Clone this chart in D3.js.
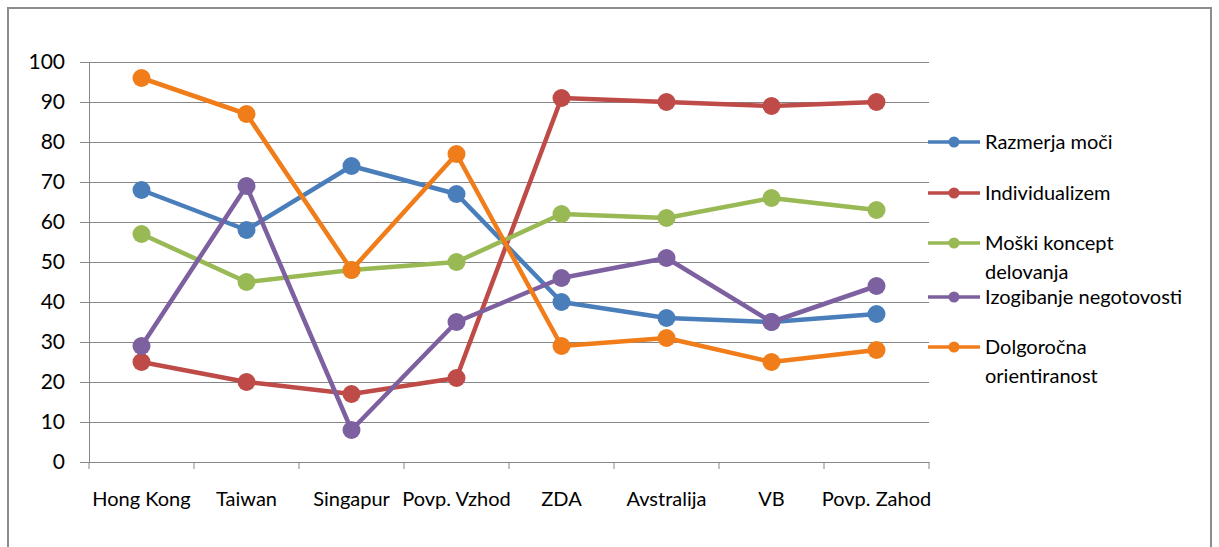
<!DOCTYPE html>
<html>
<head>
<meta charset="utf-8">
<script src="https://cdn.jsdelivr.net/npm/d3@7"></script>
<style>
  body { margin: 0; background: #fff; }
  text { font-family: Lato, "Open Sans", sans-serif; fill: #000; }
</style>
</head>
<body>
<div id="chart"></div>
<script>
var categories = ["Hong Kong", "Taiwan", "Singapur", "Povp. Vzhod", "ZDA", "Avstralija", "VB", "Povp. Zahod"];
var seriesNames = ["Razmerja moči", "Individualizem", "Moški koncept delovanja", "Izogibanje negotovosti", "Dolgoročna orientiranost"];
var razmerjaMoci = [68, 58, 74, 67, 40, 36, 35, 37];
var individualizem = [25, 20, 17, 21, 91, 90, 89, 90];
var moskiKoncept = [57, 45, 48, 50, 62, 61, 66, 63];
var izogibanje = [29, 69, 8, 35, 46, 51, 35, 44];
var dolgorocna = [96, 87, 48, 77, 29, 31, 25, 28];
var yTicks = [0, 10, 20, 30, 40, 50, 60, 70, 80, 90, 100];

var seriesValues = [razmerjaMoci, individualizem, moskiKoncept, izogibanje, dolgorocna];
var colors = ["#4a7ebb", "#be4b48", "#98b954", "#7d60a0", "#f07d1a"];
var legendLines = [["Razmerja moči"], ["Individualizem"], ["Moški koncept", "delovanja"], ["Izogibanje negotovosti"], ["Dolgoročna", "orientiranost"]];

var width = 1219, height = 547;
var margins = {top: 62, left: 89, right: 290, bottom: 85};

var svg = d3.select("#chart").append("svg")
    .attr("width", width)
    .attr("height", height);

// outer frame
svg.append("rect")
    .attr("x", 8).attr("y", 8)
    .attr("width", 1203).attr("height", 560)
    .attr("fill", "none")
    .attr("stroke", "#8c8c8c")
    .attr("stroke-width", 2);

var x = d3.scaleBand()
    .domain(categories)
    .range([margins.left, width - margins.right]);

var y = d3.scaleLinear()
    .domain([0, 100])
    .range([height - margins.bottom, margins.top]);

// gridlines + y labels
var yAxis = d3.axisLeft(y)
    .tickValues(yTicks)
    .tickSize(-(width - margins.right - margins.left));

var yG = svg.append("g")
    .attr("transform", "translate(" + margins.left + ",0)")
    .call(yAxis);
yG.select(".domain").attr("stroke", "#868686");
yG.selectAll(".tick line").attr("stroke", "#868686").attr("x1", -9);
yG.selectAll(".tick text")
    .attr("x", -24)
    .style("font-size", "21px")
    .attr("fill", "#000");

// x axis
var xAxis = d3.axisBottom(x).tickSize(0).tickPadding(30);
var xG = svg.append("g")
    .attr("transform", "translate(0," + y(0) + ")")
    .call(xAxis);
xG.select(".domain").attr("stroke", "#868686");
xG.selectAll(".tick text")
    .style("font-size", "20px")
    .attr("fill", "#000");

// category boundary ticks
var bounds = categories.map(function (c) { return x(c); }).concat([x(categories[categories.length - 1]) + x.bandwidth()]);
svg.append("g").selectAll("line")
    .data(bounds)
    .enter().append("line")
    .attr("x1", function (d) { return d; })
    .attr("x2", function (d) { return d; })
    .attr("y1", y(0))
    .attr("y2", y(0) + 7)
    .attr("stroke", "#868686");

// series
var line = d3.line()
    .x(function (d, i) { return x(categories[i]) + x.bandwidth() / 2; })
    .y(function (d) { return y(d); });

seriesValues.forEach(function (vals, s) {
    var g = svg.append("g").attr("class", "series");
    g.append("path")
        .datum(vals)
        .attr("d", line)
        .attr("fill", "none")
        .attr("stroke", colors[s])
        .attr("stroke-width", 4.5)
        .attr("stroke-linejoin", "round");
    g.selectAll("circle")
        .data(vals)
        .enter().append("circle")
        .attr("cx", function (d, i) { return x(categories[i]) + x.bandwidth() / 2; })
        .attr("cy", function (d) { return y(d); })
        .attr("r", 9)
        .attr("fill", colors[s]);
});

// legend
var legendY = [142, 193, 243, 297, 347];
var legend = svg.append("g").attr("class", "legend");
seriesNames.forEach(function (name, s) {
    var g = legend.append("g").attr("transform", "translate(928," + legendY[s] + ")");
    g.append("line")
        .attr("x1", 0).attr("x2", 52)
        .attr("stroke", colors[s])
        .attr("stroke-width", 3.5);
    g.append("circle")
        .attr("cx", 26).attr("r", 5.5)
        .attr("fill", colors[s]);
    var t = g.append("text")
        .attr("x", 57)
        .attr("y", 7)
        .style("font-size", "20px");
    legendLines[s].forEach(function (l, k) {
        t.append("tspan")
            .attr("x", 57)
            .attr("dy", k === 0 ? 0 : 29)
            .text(l);
    });
});
</script>
</body>
</html>
